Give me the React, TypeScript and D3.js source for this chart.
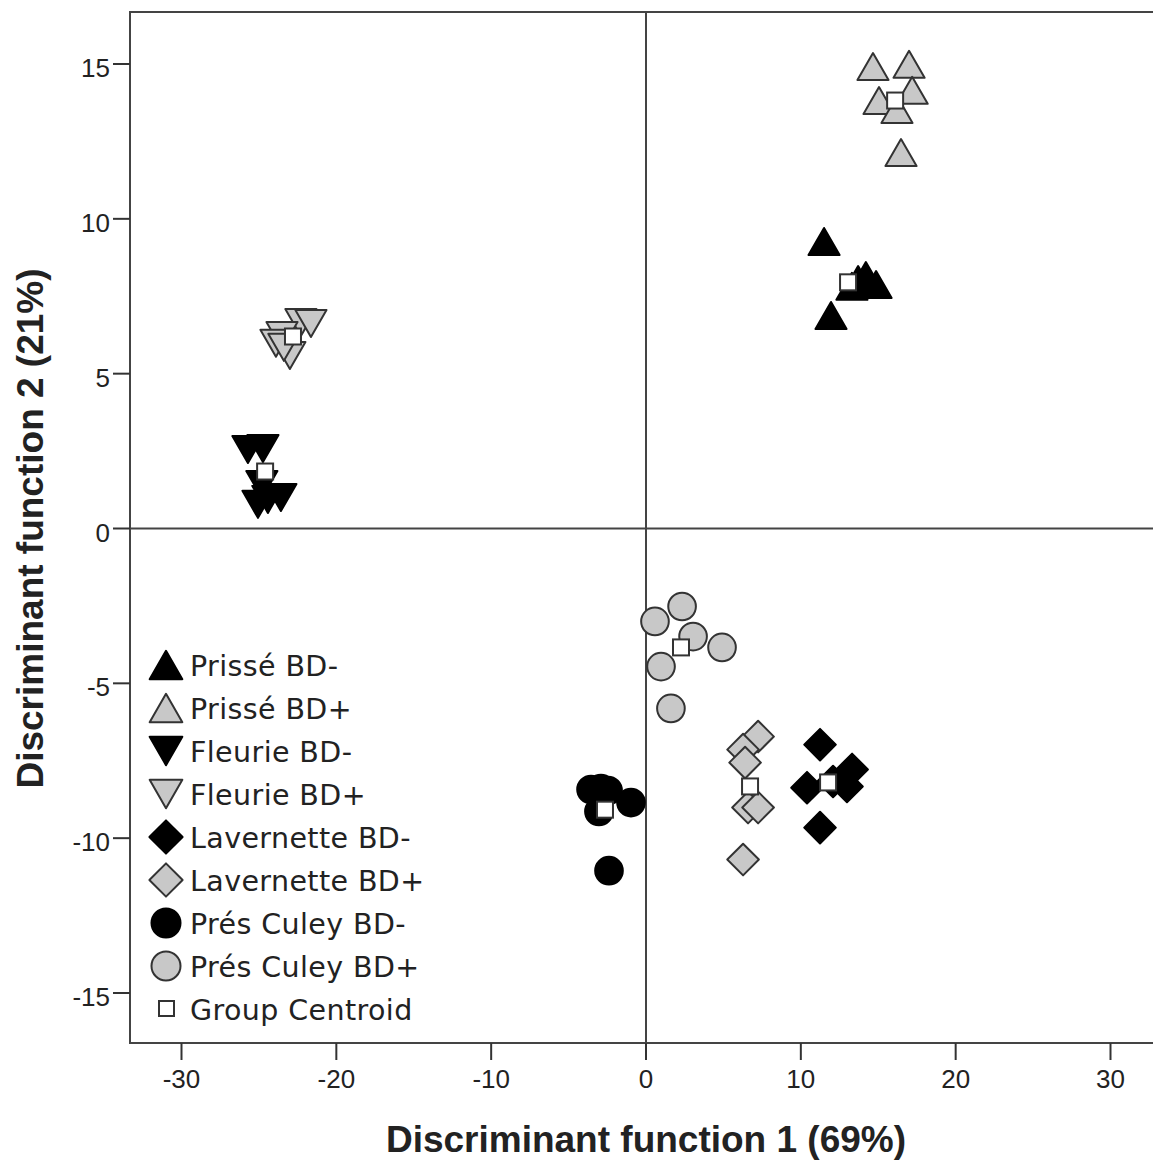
import React from "react";
import * as d3 from "d3";

const W = 1153;
const H = 1161;

const groups = ["Prissé BD-", "Prissé BD+", "Fleurie BD-", "Fleurie BD+", "Lavernette BD-", "Lavernette BD+", "Prés Culey BD-", "Prés Culey BD+"];
const shapes = ["up", "up", "down", "down", "diamond", "diamond", "circle", "circle"];
const fills = ["#000000", "#c8c8c8", "#000000", "#c8c8c8", "#000000", "#c8c8c8", "#000000", "#c8c8c8"];

const prisseMinusX = [11.5, 11.95, 13.7, 14.2, 14.86, 13.3];
const prisseMinusY = [9.27, 6.88, 8.04, 8.17, 7.88, 7.82];
const prissePlusX = [14.66, 16.99, 15.05, 17.19, 16.21, 16.47];
const prissePlusY = [14.92, 14.99, 13.82, 14.15, 13.53, 12.14];
const fleurieMinusX = [-25.71, -24.74, -24.81, -25.06, -24.42, -23.58];
const fleurieMinusY = [2.55, 2.58, 1.42, 0.78, 0.94, 1.0];
const fleuriePlusX = [-22.29, -21.64, -23.51, -23.9, -23.0, -23.39];
const fleuriePlusY = [6.65, 6.62, 6.23, 5.98, 5.59, 5.85];
const lavMinusX = [11.24, 10.4, 13.31, 12.98, 11.24, 12.08];
const lavMinusY = [-6.98, -8.37, -7.78, -8.33, -9.66, -8.17];
const lavPlusX = [7.24, 6.27, 6.4, 6.59, 7.24, 6.27];
const lavPlusY = [-6.72, -7.14, -7.56, -9.01, -9.01, -10.69];
const culeyMinusX = [-3.55, -2.91, -2.45, -3.04, -0.97, -2.39];
const culeyMinusY = [-8.43, -8.4, -8.46, -9.14, -8.85, -11.05];
const culeyPlusX = [0.58, 2.33, 3.04, 4.91, 0.97, 1.61];
const culeyPlusY = [-3.0, -2.52, -3.49, -3.84, -4.46, -5.81];

const centroidX = [13.05, 16.09, -24.6, -22.8, 11.76, 6.72, -2.65, 2.26];
const centroidY = [7.95, 13.82, 1.84, 6.2, -8.2, -8.33, -9.08, -3.84];

const xTicks = [-30, -20, -10, 0, 10, 20, 30];
const yTicks = [-15, -10, -5, 0, 5, 10, 15];

const seriesX = [prisseMinusX, prissePlusX, fleurieMinusX, fleuriePlusX, lavMinusX, lavPlusX, culeyMinusX, culeyPlusX];
const seriesY = [prisseMinusY, prissePlusY, fleurieMinusY, fleuriePlusY, lavMinusY, lavPlusY, culeyMinusY, culeyPlusY];

const left = 130, top = 12, bottom = 1043;
const x = d3.scaleLinear().domain([-30, 30]).range([181.5, 1110.5]);
const y = d3.scaleLinear().domain([15, -15]).range([64, 993]);
const right = x(33.33);

const FONT = "'Liberation Sans', Arial, Helvetica, sans-serif";
const LEGEND_FONT = "'DejaVu Sans', 'Liberation Sans', Arial, sans-serif";
const STROKE = "#333";

function Marker({ shape, fill, cx, cy, scale = 1 }: { shape: string; fill: string; cx: number; cy: number; scale?: number }) {
  const stroke = fill === "#000000" ? "#000" : STROKE;
  if (shape === "up" || shape === "down") {
    const size = 420 * scale * scale;
    const side = Math.sqrt((size * 4) / Math.sqrt(3));
    const h = (side * Math.sqrt(3)) / 2;
    const path = d3.symbol().type(d3.symbolTriangle).size(size)()!;
    const off = h / 6;
    const rot = shape === "down" ? 180 : 0;
    const dy = shape === "down" ? -off : off;
    return <path d={path} transform={`translate(${cx},${cy + dy}) rotate(${rot})`} fill={fill} stroke={stroke} strokeWidth={2} strokeLinejoin="round" />;
  }
  if (shape === "diamond") {
    const path = d3.symbol().type(d3.symbolSquare).size(500 * scale * scale)()!;
    return <path d={path} transform={`translate(${cx},${cy}) rotate(45)`} fill={fill} stroke={stroke} strokeWidth={2} strokeLinejoin="round" />;
  }
  const path = d3.symbol().type(d3.symbolCircle).size(600 * scale * scale)()!;
  return <path d={path} transform={`translate(${cx},${cy})`} fill={fill} stroke={stroke} strokeWidth={2} />;
}

export default function App() {
  const legendItems = [...groups, "Group Centroid"];
  return (
    <svg width={W} height={H} style={{ position: "absolute", left: 0, top: 0, background: "#fff" }} fontFamily={FONT}>
      <rect x={0} y={0} width={W} height={H} fill="#fff" />
      {/* frame */}
      <rect x={left} y={top} width={right - left} height={bottom - top} fill="none" stroke="#444" strokeWidth={2} />
      {/* reference lines */}
      <line x1={x(0)} x2={x(0)} y1={top} y2={bottom} stroke="#444" strokeWidth={2} />
      <line x1={left} x2={right} y1={y(0)} y2={y(0)} stroke="#444" strokeWidth={2} />
      {/* y ticks */}
      {yTicks.map((t) => (
        <g key={"y" + t}>
          <line x1={left - 17} x2={left} y1={y(t)} y2={y(t)} stroke="#333" strokeWidth={2} />
          <text x={left - 20} y={y(t) + 13} textAnchor="end" fontSize={26} fill="#222">{t}</text>
        </g>
      ))}
      {/* x ticks */}
      {xTicks.map((t) => (
        <g key={"x" + t}>
          <line x1={x(t)} x2={x(t)} y1={bottom} y2={bottom + 17} stroke="#333" strokeWidth={2} />
          <text x={x(t)} y={1088} textAnchor="middle" fontSize={26} fill="#222">{t}</text>
        </g>
      ))}
      {/* points */}
      {groups.map((g, gi) =>
        seriesX[gi].map((vx, i) => (
          <Marker key={g + i} shape={shapes[gi]} fill={fills[gi]} cx={x(vx)} cy={y(seriesY[gi][i])} />
        ))
      )}
      {/* centroids */}
      {centroidX.map((cx, i) => (
        <rect key={"c" + i} x={x(cx) - 8} y={y(centroidY[i]) - 8} width={16} height={16} fill="#fff" stroke="#333" strokeWidth={2} />
      ))}
      {/* legend */}
      {legendItems.map((label, i) => {
        const ly = 665 + i * 43;
        return (
          <g key={"l" + i}>
            {i < groups.length ? (
              <Marker shape={shapes[i]} fill={fills[i]} cx={166} cy={ly} scale={1.05} />
            ) : (
              <rect x={159} y={ly - 8} width={15} height={15} fill="#fff" stroke="#333" strokeWidth={2} />
            )}
            <text x={190} y={ly + 11} fontSize={28.5} fill="#222" fontFamily={LEGEND_FONT} letterSpacing={0.4}>{label}</text>
          </g>
        );
      })}
      {/* axis titles */}
      <text x={x(0)} y={1152} textAnchor="middle" fontSize={37} fontWeight="bold" fill="#222">Discriminant function 1 (69%)</text>
      <text transform={`translate(43,${y(0)}) rotate(-90)`} textAnchor="middle" fontSize={37} fontWeight="bold" fill="#222">Discriminant function 2 (21%)</text>
    </svg>
  );
}
